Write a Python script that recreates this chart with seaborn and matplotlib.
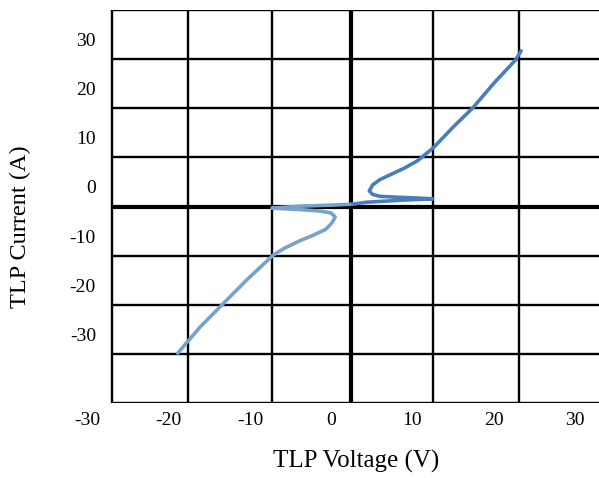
import matplotlib
matplotlib.use("Agg")
import matplotlib.pyplot as plt
import seaborn as sns

# tick labels
x_ticks = [-30, -20, -10, 0, 10, 20, 30]
y_ticks = [-30, -20, -10, 0, 10, 20, 30]

# grid lines as drawn in the figure (offset from the tick labels)
v_grid = [-17.6, -7.3, 12.6, 23.1]
v_axis = 2.5
v_left, v_right = -27.0, 33.0
h_grid = [26, 16, 6, -14, -24, -34]
h_axis = -4.0
h_top, h_bottom = 36.0, -44.0

# negative branch (bottom-left end -> origin)
neg_v = [-18.9, -16.1, -13.7, -10.4, -7.1, -5.7, -3.8, -2.2, -0.7, 0.1, 0.5,
         0.0, -1.35, -3.8, -7.3, -3.8, -0.1, 2.6]
neg_i = [-33.8, -28.4, -24.4, -18.9, -13.8, -12.4, -10.9, -9.8, -8.65, -7.3,
         -6.1, -5.3, -4.9, -4.6, -4.3, -3.9, -3.7, -3.5]

# positive branch (origin -> top-right end)
pos_v = [2.6, 4.4, 8.5, 12.5, 8.5, 6.0, 5.1, 4.7, 5.1, 6.0, 7.3, 9.1, 10.7,
         12.6, 15.1, 17.4, 20.1, 22.7, 23.4]
pos_i = [-3.5, -3.1, -2.7, -2.4, -2.1, -1.9, -1.5, -0.8, 0.4, 1.5, 2.5, 3.9,
         5.4, 8.0, 12.3, 16.0, 21.2, 25.8, 27.7]

sns.set_theme(style="white")
plt.rcParams["font.family"] = ["Liberation Serif", "DejaVu Serif"]
plt.rcParams["axes.unicode_minus"] = False

fig = plt.figure(figsize=(5.99, 4.78), dpi=100)
ax = fig.add_axes([63.3 / 599, 1 - 403.3 / 478, 1 - 63.3 / 599, (403.3 - 10) / 478])
ax.set_xlim(-33, 33)
ax.set_ylim(h_bottom, h_top)

# frame and grid
ax.vlines(v_grid, h_bottom, h_top, color="black", lw=1.7, zorder=1)
ax.vlines([v_left], h_bottom, h_top, color="black", lw=1.7, zorder=1)
ax.hlines(h_grid + [h_top, h_bottom], v_left, v_right, color="black", lw=1.7, zorder=1)
ax.vlines([v_axis], h_bottom, h_top, color="black", lw=3.0, zorder=1)
ax.hlines([h_axis], v_left, v_right, color="black", lw=3.0, zorder=1)

sns.lineplot(x=neg_v, y=neg_i, sort=False, estimator=None, ax=ax,
             color="#78a2cc", lw=2.6, zorder=3)
sns.lineplot(x=pos_v, y=pos_i, sort=False, estimator=None, ax=ax,
             color="#4a7ebb", lw=2.6, zorder=3)

for s in ax.spines.values():
    s.set_visible(False)

ax.set_xticks(x_ticks)
ax.set_yticks(y_ticks)
ax.tick_params(axis="both", length=0, labelsize=14, colors="black")
ax.tick_params(axis="x", pad=6)
ax.tick_params(axis="y", pad=-23.5)

ax.set_xlabel("TLP Voltage (V)", fontsize=18, color="black")
ax.set_ylabel("TLP Current (A)", fontsize=17.5, color="black")
ax.xaxis.set_label_coords(0.546, -0.118)
ax.yaxis.set_label_coords(-0.06, 0.45)

fig.savefig("out.png", dpi=100)
plt.close()
